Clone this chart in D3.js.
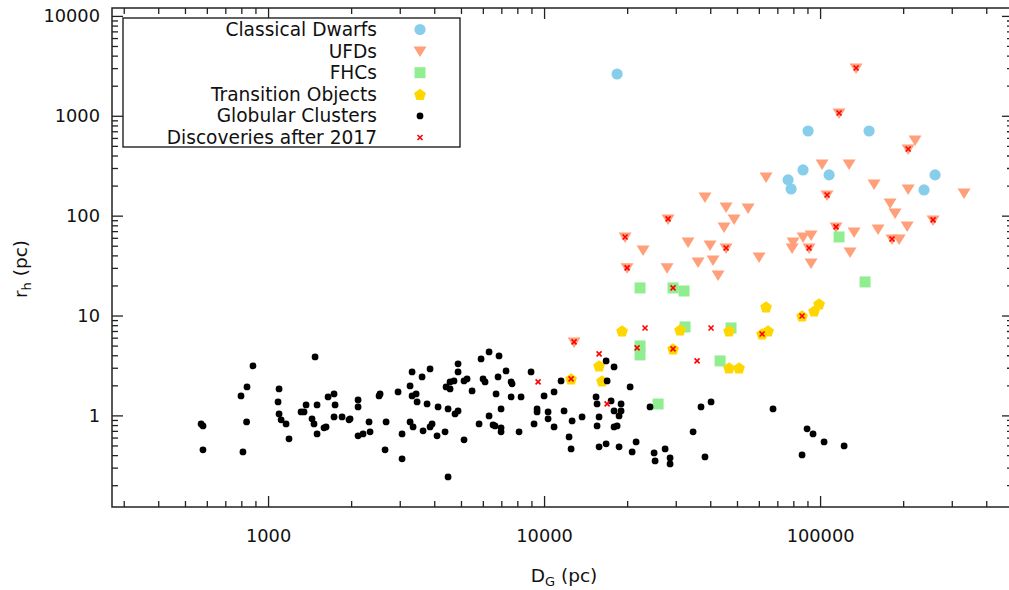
<!DOCTYPE html>
<html>
<head>
<meta charset="utf-8">
<script src="https://cdn.jsdelivr.net/npm/d3@7"></script>
<style>
  html, body { margin: 0; padding: 0; background: #fff; }
  svg { display: block; }
  text { font-family: "DejaVu Sans", Verdana, sans-serif; fill: #111; }
</style>
</head>
<body>
<script>
// ---------------- data: [D_G (pc), r_h (pc)] ----------------
const seriesNames = ["Classical Dwarfs", "UFDs", "FHCs", "Transition Objects", "Globular Clusters", "Discoveries after 2017"];

const classicalDwarfs = [
  [18390, 2620], [90480, 704], [150500, 704], [86760, 287], [76580, 228],
  [78530, 185], [107800, 256], [261000, 256], [238000, 181]
];

const ufds = [
  [12845, 5.44], [19660, 61.2], [19990, 30.0], [22840, 45.4], [28140, 92.7],
  [27910, 30.0], [33240, 54.5], [38280, 154], [39930, 50.9], [36140, 34.4],
  [40950, 36.0], [42700, 25.5], [45650, 122], [54850, 119.5], [48790, 92.7],
  [44885, 77.1], [45650, 47.5], [60120, 38.6], [63730, 244], [79850, 54.5],
  [79190, 47.5], [86760, 61.2], [92750, 64.1], [91220, 47.5], [92750, 33.6],
  [101680, 329], [127400, 329], [106010, 161], [114250, 77.1], [132810, 68.7],
  [128450, 43.3], [135040, 3010], [117170, 1067], [156900, 208], [179300, 134],
  [186950, 106], [162200, 73.6], [182300, 58.4], [193400, 58.4], [206800, 78.9],
  [208500, 185], [220900, 573], [208500, 465], [256700, 90.6], [332400, 169]
];

const fhcs = [
  [22270, 18.9], [29330, 18.9], [32150, 17.6], [22270, 4.96], [22270, 4.03],
  [32420, 7.69], [47580, 7.51], [43420, 3.51], [25890, 1.30], [117170, 61.2],
  [145550, 21.7]
];

const transitionObjects = [
  [12530, 2.32], [15823, 3.13], [16220, 2.22], [19170, 7.01], [29330, 4.63],
  [31110, 7.18], [46800, 7.01], [46800, 2.99], [50860, 2.99], [61650, 6.54],
  [64800, 7.01], [63730, 12.2], [86040, 9.9], [95120, 11.1], [99170, 13.1]
];

const globularClusters = [
  [572, 0.822], [581, 0.785], [581, 0.452], [798, 1.567], [839, 1.929], [882, 3.13],
  [836, 0.861], [811, 0.431], [1096, 1.84], [1087, 1.365], [1096, 1.035], [1115, 0.902],
  [1162, 0.822], [1191, 0.582], [1480, 3.85], [1317, 1.084], [1350, 1.084], [1373, 1.274],
  [1443, 0.923], [1467, 0.822], [1505, 1.274], [1505, 0.653], [1595, 0.750], [1622, 0.767],
  [1650, 1.532], [1734, 1.64], [1749, 1.274], [1734, 0.966], [1854, 0.966], [1965, 0.902],
  [1982, 0.923], [2119, 1.43], [2119, 1.216], [2119, 0.624], [2209, 0.653], [2342, 0.684],
  [2322, 0.861], [2525, 1.567], [2546, 1.64], [2677, 0.861], [2654, 0.452], [2958, 1.718],
  [3058, 0.653], [3058, 0.367], [3270, 1.974], [3325, 2.725], [3325, 1.567], [3439, 1.64],
  [3467, 1.365], [3614, 2.43], [3863, 2.92], [3768, 1.303], [3270, 0.861], [3353, 0.767],
  [3644, 0.700], [3863, 0.767], [3928, 0.822], [4130, 1.216], [4095, 0.624], [4378, 0.684],
  [4489, 1.162], [4489, 0.242], [4758, 1.035], [4879, 1.109], [4415, 1.929], [4564, 1.84],
  [4564, 2.165], [4718, 2.215], [4879, 3.28], [4879, 2.725], [5129, 2.215], [5259, 2.32],
  [5129, 0.569], [5485, 1.759], [5815, 0.822], [5913, 3.68], [6320, 4.32], [6868, 3.94],
  [6012, 2.32], [6113, 2.165], [6320, 0.989], [6534, 0.803], [6643, 0.785], [6700, 1.64],
  [6812, 2.43], [6985, 1.162], [7283, 2.79], [6985, 0.750], [6985, 0.684], [7594, 2.165],
  [7657, 2.07], [7594, 1.532], [8117, 0.684], [8254, 1.532], [8972, 2.725], [9198, 0.822],
  [9433, 1.162], [9433, 1.084], [10000, 1.567], [10340, 1.084], [10340, 0.923], [10870, 1.718],
  [10870, 0.767], [11522, 2.215], [11816, 1.109], [12320, 0.609], [12530, 0.462], [12635, 0.881],
  [13730, 0.966], [15430, 1.532], [15560, 1.303], [15823, 0.966], [15560, 0.785], [15823, 0.484],
  [16780, 0.519], [16780, 3.51], [17930, 3.06], [16920, 2.215], [17490, 1.397], [17930, 1.109],
  [19010, 1.303], [19010, 1.109], [18695, 0.989], [17930, 0.767], [18390, 0.785], [18695, 0.484],
  [20500, 1.929], [21550, 0.543], [20850, 0.431], [24200, 1.216], [25040, 0.421], [25250, 0.350],
  [27450, 0.462], [28610, 0.375], [28610, 0.327], [34670, 0.684], [37040, 1.216], [40270, 1.365],
  [38280, 0.384], [67540, 1.162], [89720, 0.733], [94300, 0.653], [103400, 0.543], [122200, 0.495],
  [86040, 0.402]
];

const discoveriesAfter2017 = [
  [9513, 2.165], [15823, 4.13], [16920, 1.303], [23220, 7.51], [35840, 3.51],
  [40270, 7.51], [21730, 4.74], [29330, 18.9], [12530, 2.32], [29330, 4.63],
  [86040, 9.9], [61650, 6.54], [12845, 5.44], [19660, 61.2], [19990, 30.0],
  [28140, 92.7], [45650, 47.5], [91220, 47.5], [106010, 161], [114250, 77.1],
  [135040, 3010], [117170, 1067], [182300, 58.4], [208500, 465], [256700, 90.6]
];

const xTickLabels = [1000, 10000, 100000];
const yTickLabels = [1, 10, 100, 1000, 10000];
const xAxisTitle = ["D", "G", " (pc)"];
const yAxisTitle = ["r", "h", " (pc)"];

// ---------------- layout ----------------
const W = 1009, H = 590;
const L = 112, R = 1013, T = 8, B = 507;

const svg = d3.select("body").append("svg").attr("width", W).attr("height", H);

const x = d3.scaleLog().domain([272, 500000]).range([L, R]);
const y = d3.scaleLog().domain([0.121, 12000]).range([B, T]);

function minorTicks(dom, majors) {
  const out = [];
  for (let e = -2; e <= 7; e++) for (let k = 1; k <= 9; k++) {
    const v = k * Math.pow(10, e);
    if (v >= dom[0] && v <= dom[1] && !majors.some(m => Math.abs(m - v) / v < 1e-9)) out.push(v);
  }
  return out;
}
const xMinor = minorTicks(x.domain(), xTickLabels);
const yMinor = minorTicks(y.domain(), yTickLabels);

const fmt = d => String(Math.round(d));
const MAJ = 11, MIN = 6;

function styleAxis(g) {
  g.select(".domain").remove();
  g.selectAll(".tick line").attr("stroke", "#222").attr("stroke-width", 1.3);
  g.selectAll(".tick text").attr("font-size", 17.8).attr("fill", "#111")
    .attr("font-family", '"DejaVu Sans", Verdana, sans-serif');
}

// bottom
svg.append("g").attr("transform", `translate(0,${B})`)
  .call(d3.axisBottom(x).tickValues(xMinor).tickSize(-MIN).tickFormat("")).call(styleAxis);
svg.append("g").attr("transform", `translate(0,${B})`)
  .call(d3.axisBottom(x).tickValues(xTickLabels).tickSize(-MAJ).tickPadding(22).tickFormat(fmt)).call(styleAxis);
// top
svg.append("g").attr("transform", `translate(0,${T})`)
  .call(d3.axisTop(x).tickValues(xMinor).tickSize(-MIN).tickFormat("")).call(styleAxis);
svg.append("g").attr("transform", `translate(0,${T})`)
  .call(d3.axisTop(x).tickValues(xTickLabels).tickSize(-MAJ).tickFormat("")).call(styleAxis);
// left
svg.append("g").attr("transform", `translate(${L},0)`)
  .call(d3.axisLeft(y).tickValues(yMinor).tickSize(-MIN).tickFormat("")).call(styleAxis);
svg.append("g").attr("transform", `translate(${L},0)`)
  .call(d3.axisLeft(y).tickValues(yTickLabels).tickSize(-MAJ).tickPadding(12).tickFormat(fmt)).call(styleAxis);
// right
svg.append("g").attr("transform", `translate(${R},0)`)
  .call(d3.axisRight(y).tickValues(yMinor).tickSize(-MIN).tickFormat("")).call(styleAxis);
svg.append("g").attr("transform", `translate(${R},0)`)
  .call(d3.axisRight(y).tickValues(yTickLabels).tickSize(-MAJ).tickFormat("")).call(styleAxis);

// frame
svg.append("rect").attr("x", L).attr("y", T).attr("width", R - L).attr("height", B - T)
  .attr("fill", "none").attr("stroke", "#222").attr("stroke-width", 1.5);

// ---------------- marker shapes ----------------
const COL = {
  classical: "#87CEEB", ufd: "#FFA07A", fhc: "#90EE90", trans: "#FFD700", gc: "#000000", disc: "#FF0000"
};
const triPath = "M-6.5,-4.5L6.5,-4.5L0,6Z";
const pentPath = (() => {
  const r = 6.2, pts = [];
  for (let i = 0; i < 5; i++) {
    const a = -Math.PI / 2 + i * 2 * Math.PI / 5;
    pts.push([r * Math.cos(a), r * Math.sin(a) + 0.6]);
  }
  return "M" + pts.map(p => p[0].toFixed(2) + "," + p[1].toFixed(2)).join("L") + "Z";
})();
const xPath = "M-2.5,-2.5L2.5,2.5M-2.5,2.5L2.5,-2.5";

function drawMarker(g, kind) {
  if (kind === "classical") g.append("circle").attr("r", 5.6).attr("fill", COL.classical);
  else if (kind === "ufd") g.append("path").attr("d", triPath).attr("fill", COL.ufd);
  else if (kind === "fhc") g.append("rect").attr("x", -5.5).attr("y", -5.5).attr("width", 11).attr("height", 11).attr("fill", COL.fhc);
  else if (kind === "trans") g.append("path").attr("d", pentPath).attr("fill", COL.trans);
  else if (kind === "gc") g.append("circle").attr("r", 3.4).attr("fill", COL.gc);
  else if (kind === "disc") g.append("path").attr("d", xPath).attr("stroke", COL.disc).attr("stroke-width", 1.6).attr("fill", "none");
}

const plot = svg.append("g");
const layers = [
  ["classical", classicalDwarfs], ["ufd", ufds], ["fhc", fhcs],
  ["trans", transitionObjects], ["gc", globularClusters], ["disc", discoveriesAfter2017]
];
layers.forEach(([kind, data]) => {
  const lg = plot.append("g").attr("class", kind);
  data.forEach(d => {
    const g = lg.append("g").attr("transform", `translate(${x(d[0])},${y(d[1])})`);
    drawMarker(g, kind);
  });
});

// ---------------- legend ----------------
const leg = svg.append("g");
leg.append("rect").attr("x", 123).attr("y", 18).attr("width", 337).attr("height", 129)
  .attr("fill", "#fff").attr("stroke", "#222").attr("stroke-width", 1.4);
const kinds = ["classical", "ufd", "fhc", "trans", "gc", "disc"];
seriesNames.forEach((name, i) => {
  const yy = 29.5 + i * 21.6;
  leg.append("text").attr("x", 377).attr("y", yy).attr("text-anchor", "end")
    .attr("dominant-baseline", "central").attr("font-size", 18.6).text(name);
  const g = leg.append("g").attr("transform", `translate(420,${yy})`);
  drawMarker(g, kinds[i]);
});

// ---------------- axis titles ----------------
const xt = svg.append("text").attr("x", 564).attr("y", 582).attr("text-anchor", "middle").attr("font-size", 18.5);
xt.append("tspan").text(xAxisTitle[0]);
xt.append("tspan").attr("font-size", 13).attr("dy", 4).text(xAxisTitle[1]);
xt.append("tspan").attr("dy", -4).text(xAxisTitle[2]);

const yt = svg.append("text").attr("transform", "translate(27,269) rotate(-90)")
  .attr("text-anchor", "middle").attr("font-size", 18.5);
yt.append("tspan").text(yAxisTitle[0]);
yt.append("tspan").attr("font-size", 13).attr("dy", 4).text(yAxisTitle[1]);
yt.append("tspan").attr("dy", -4).text(yAxisTitle[2]);
</script>
</body>
</html>
